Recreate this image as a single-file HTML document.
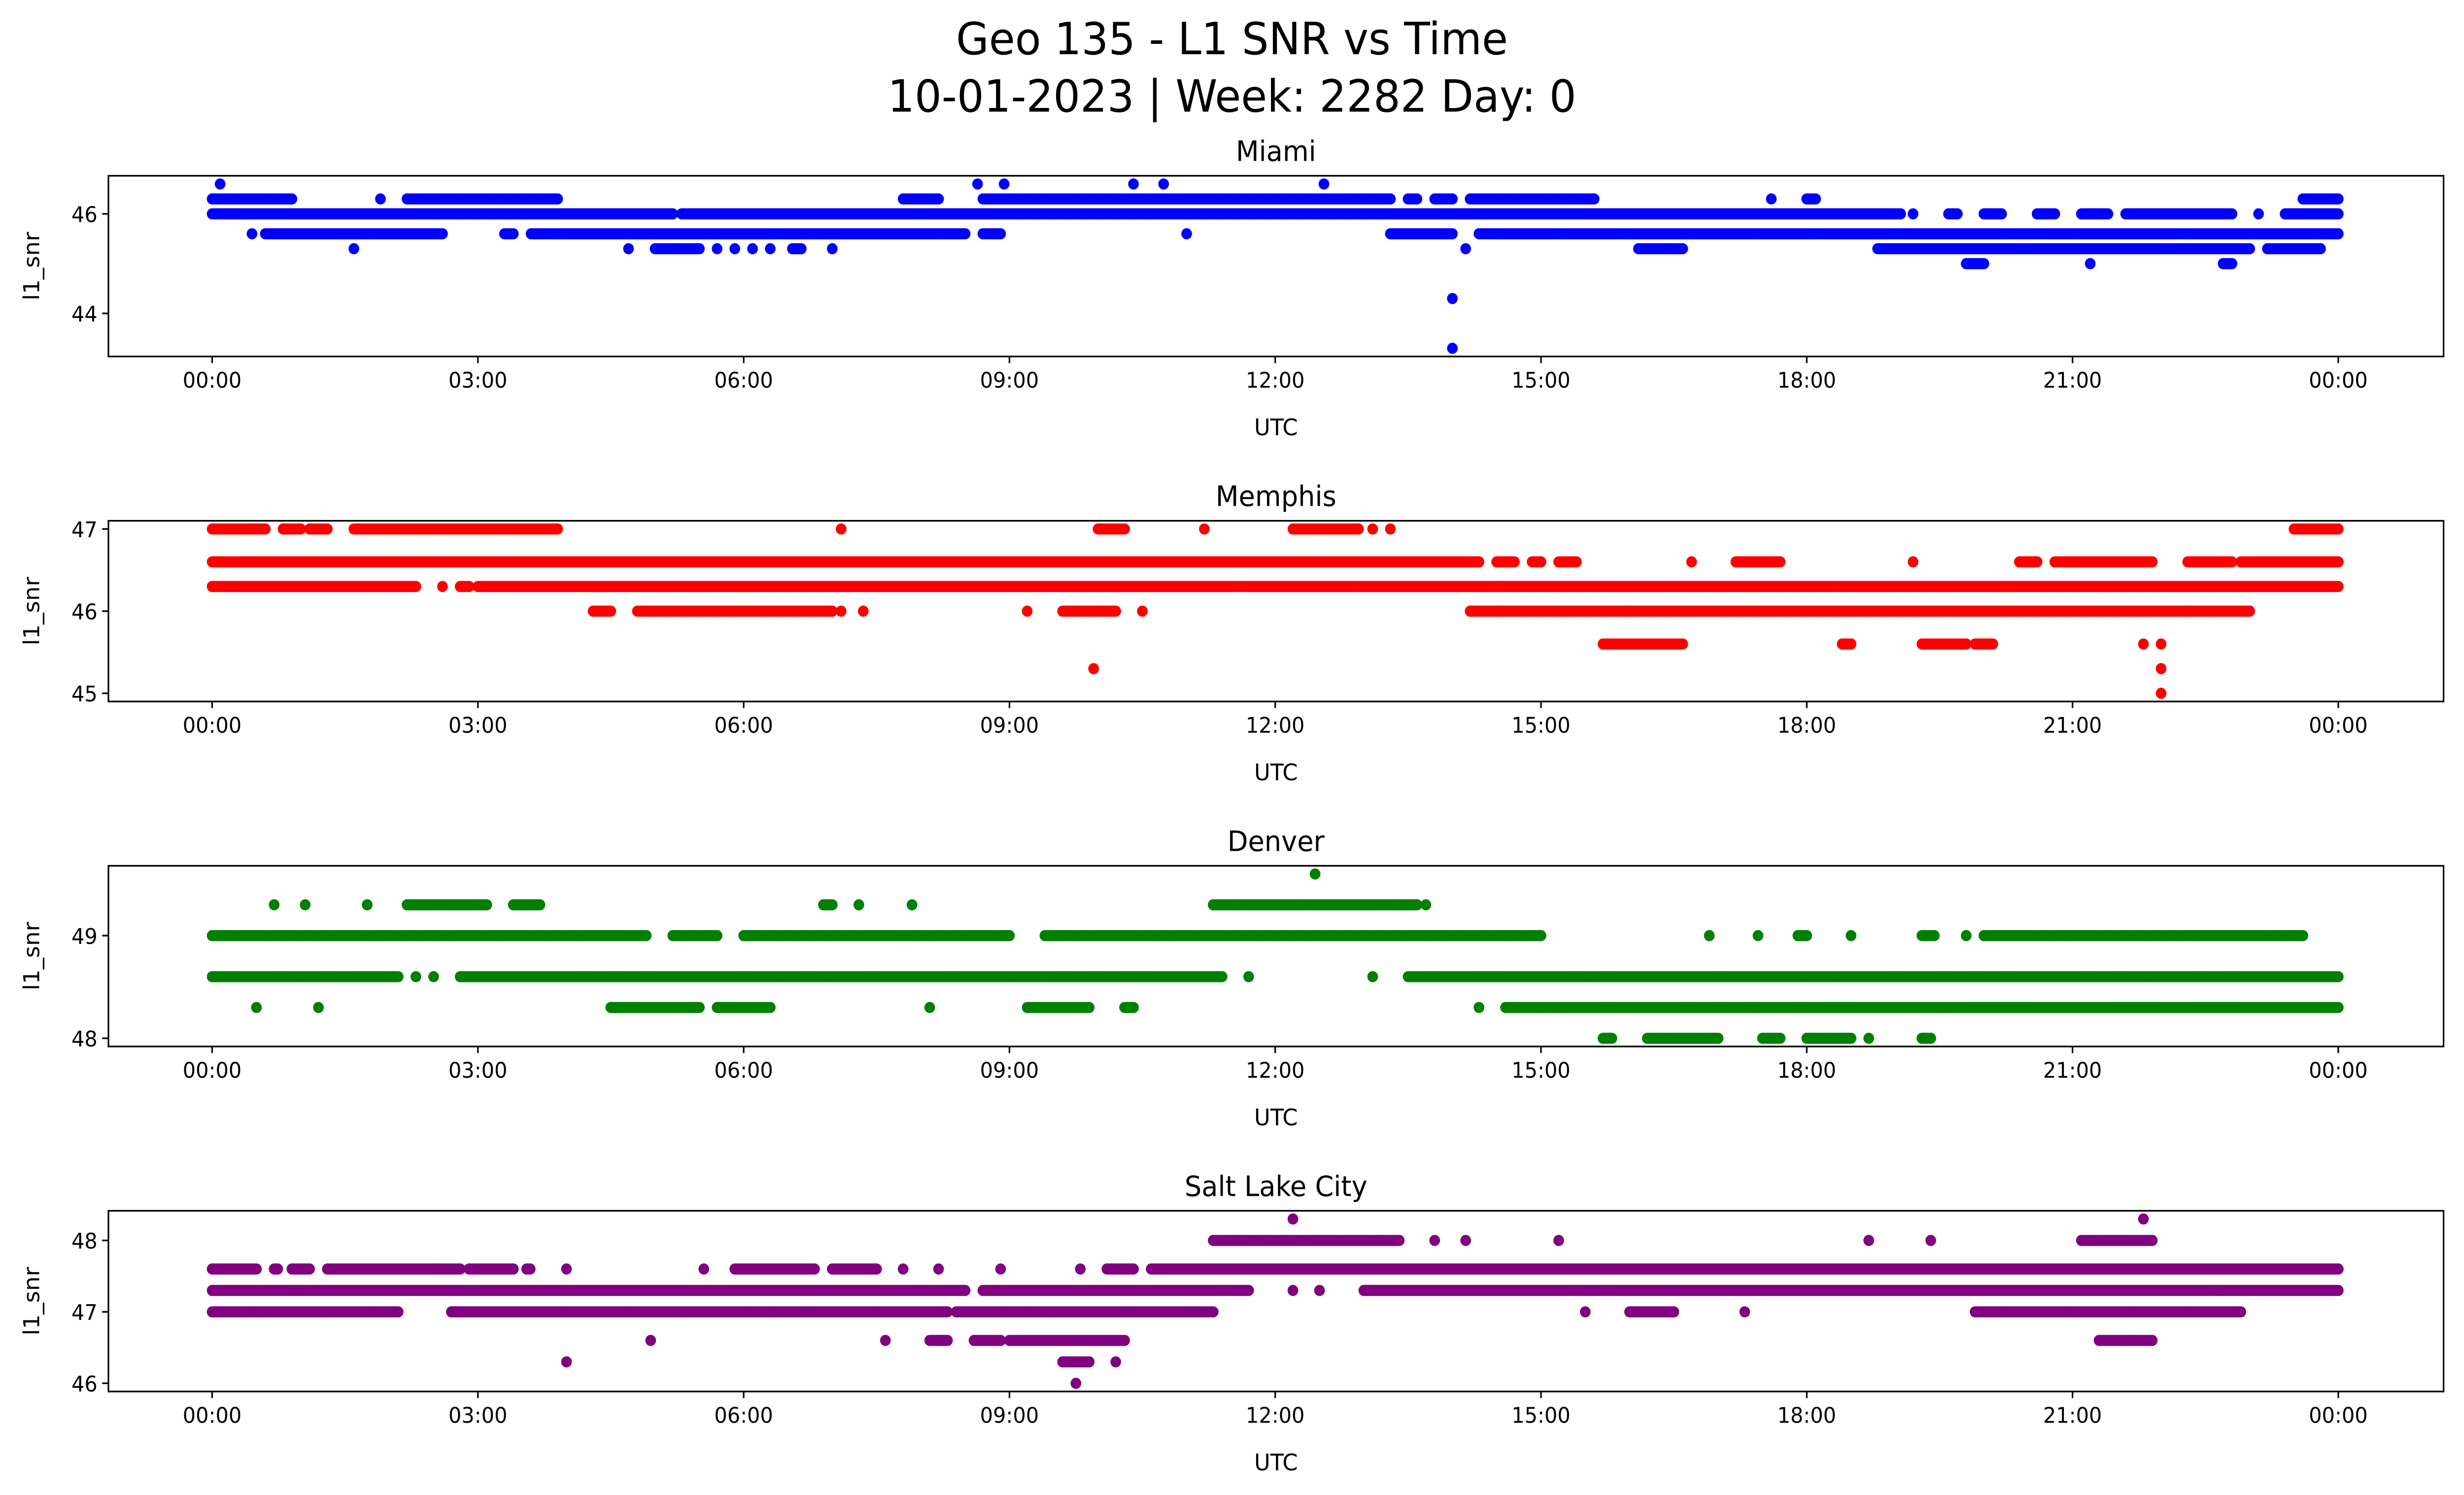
<!DOCTYPE html>
<html><head><meta charset="utf-8"><style>
html,body{margin:0;padding:0;background:#fff;overflow:hidden;width:100%;height:100%;}
svg{display:block;position:fixed;left:0;top:0;width:100vw;height:100vh;font-family:"DejaVu Sans","Liberation Sans",sans-serif;}
</style></head><body>
<svg id="fig" viewBox="0 0 1568 910" preserveAspectRatio="none" xmlns="http://www.w3.org/2000/svg">
<rect width="1568" height="910" fill="#fff"/>
<text x="784" y="33" font-size="27" text-anchor="middle">Geo 135 - L1 SNR vs Time</text>
<text x="784" y="68" font-size="27" text-anchor="middle">10-01-2023 | Week: 2282 Day: 0</text>
</svg>
<script>
// Data: runs of [snr level, start hour, end hour]
const miamiRuns=[[46.6,0.09,0.09],[46.6,8.64,8.64],[46.6,8.94,8.94],[46.6,10.4,10.4],[46.6,10.74,10.74],[46.6,12.55,12.55],
[46.3,0,0.9],[46.3,1.9,1.9],[46.3,2.2,3.9],[46.3,7.8,8.2],[46.3,8.7,13.3],[46.3,13.5,13.6],[46.3,13.8,14.0],[46.3,14.2,15.6],[46.3,17.6,17.6],[46.3,18.0,18.1],[46.3,23.6,24],
[46.0,0,5.2],[46.0,5.3,19.06],[46.0,19.2,19.2],[46.0,19.6,19.7],[46.0,20.0,20.2],[46.0,20.6,20.8],[46.0,21.1,21.4],[46.0,21.6,22.8],[46.0,23.1,23.1],[46.0,23.4,24],
[45.6,0.45,0.45],[45.6,0.6,2.6],[45.6,3.3,3.4],[45.6,3.6,3.9],[45.6,3.9,8.5],[45.6,8.7,8.9],[45.6,11.0,11.0],[45.6,13.3,14.0],[45.6,14.3,24],
[45.3,1.6,1.6],[45.3,4.7,4.7],[45.3,5.0,5.5],[45.3,5.7,5.7],[45.3,5.9,5.9],[45.3,6.1,6.1],[45.3,6.3,6.3],[45.3,6.55,6.65],[45.3,7.0,7.0],[45.3,14.15,14.15],[45.3,16.1,16.6],[45.3,18.8,23.0],[45.3,23.2,23.8],
[45.0,19.8,20.0],[45.0,21.2,21.2],[45.0,22.7,22.8],[44.3,14.0,14.0],[43.3,14.0,14.0]];
const memphisRuns=[[47.0,0,0.6],[47.0,0.8,1.0],[47.0,1.1,1.3],[47.0,1.6,3.9],[47.0,7.1,7.1],[47.0,10.0,10.3],[47.0,11.2,11.2],[47.0,12.2,12.95],[47.0,13.1,13.1],[47.0,13.3,13.3],[47.0,23.5,24],
[46.6,0,14.3],[46.6,14.5,14.7],[46.6,14.9,15.0],[46.6,15.2,15.4],[46.6,16.7,16.7],[46.6,17.2,17.7],[46.6,19.2,19.2],[46.6,20.4,20.6],[46.6,20.8,21.9],[46.6,22.3,22.8],[46.6,22.9,24],
[46.3,0,2.3],[46.3,2.6,2.6],[46.3,2.8,2.9],[46.3,3.0,24],
[46.0,4.3,4.5],[46.0,4.8,7.0],[46.0,7.1,7.1],[46.0,7.35,7.35],[46.0,9.2,9.2],[46.0,9.6,10.2],[46.0,10.5,10.5],[46.0,14.2,23.0],
[45.6,15.7,16.6],[45.6,18.4,18.5],[45.6,19.3,19.8],[45.6,19.9,20.1],[45.6,21.8,21.8],[45.6,22.0,22.0],
[45.3,9.95,9.95],[45.3,22.0,22.0],[45.0,22.0,22.0]];
const denverRuns=[[49.6,12.45,12.45],
[49.3,0.7,0.7],[49.3,1.05,1.05],[49.3,1.75,1.75],[49.3,2.2,3.1],[49.3,3.4,3.7],[49.3,6.9,7.0],[49.3,7.3,7.3],[49.3,7.9,7.9],[49.3,11.3,13.6],[49.3,13.7,13.7],
[49.0,0,4.9],[49.0,5.2,5.7],[49.0,6.0,9.0],[49.0,9.4,15.0],[49.0,16.9,16.9],[49.0,17.45,17.45],[49.0,17.9,18.0],[49.0,18.5,18.5],[49.0,19.3,19.45],[49.0,19.8,19.8],[49.0,20.0,23.6],
[48.6,0,2.1],[48.6,2.3,2.3],[48.6,2.5,2.5],[48.6,2.8,11.4],[48.6,11.7,11.7],[48.6,13.1,13.1],[48.6,13.5,24],
[48.3,0.5,0.5],[48.3,1.2,1.2],[48.3,4.5,5.5],[48.3,5.7,6.3],[48.3,8.1,8.1],[48.3,9.2,9.9],[48.3,10.3,10.4],[48.3,14.3,14.3],[48.3,14.6,15.0],[48.3,15.0,24],
[48.0,15.7,15.8],[48.0,16.2,17.0],[48.0,17.5,17.7],[48.0,18.0,18.5],[48.0,18.7,18.7],[48.0,19.3,19.4]];
const slcRuns=[[48.3,12.2,12.2],[48.3,21.8,21.8],
[48.0,11.3,13.4],[48.0,13.8,13.8],[48.0,14.15,14.15],[48.0,15.2,15.2],[48.0,18.7,18.7],[48.0,19.4,19.4],[48.0,21.1,21.9],
[47.6,0,0.5],[47.6,0.7,0.75],[47.6,0.9,1.1],[47.6,1.3,2.8],[47.6,2.9,3.4],[47.6,3.55,3.6],[47.6,4.0,4.0],[47.6,5.55,5.55],[47.6,5.9,6.8],[47.6,7.0,7.5],[47.6,7.8,7.8],[47.6,8.2,8.2],[47.6,8.9,8.9],[47.6,9.8,9.8],[47.6,10.1,10.4],[47.6,10.6,24],
[47.3,0,8.5],[47.3,8.7,11.7],[47.3,12.2,12.2],[47.3,12.5,12.5],[47.3,13.0,24],
[47.0,0,2.1],[47.0,2.7,8.3],[47.0,8.4,11.3],[47.0,15.5,15.5],[47.0,16.0,16.5],[47.0,17.3,17.3],[47.0,19.9,22.9],
[46.6,4.95,4.95],[46.6,7.6,7.6],[46.6,8.1,8.3],[46.6,8.6,8.9],[46.6,9.0,10.3],[46.6,21.3,21.9],
[46.3,4.0,4.0],[46.3,9.6,9.9],[46.3,10.2,10.2],[46.0,9.75,9.75]];
const xTickHours=[0,3,6,9,12,15,18,21,24];
const xTickLabels=["00:00","03:00","06:00","09:00","12:00","15:00","18:00","21:00","00:00"];
const panelTitles=["Miami","Memphis","Denver","Salt Lake City"];
const panelColors=["#0000ff","#ff0000","#008000","#800080"];
const panelTicks=[[44,46],[45,46,47],[48,49],[46,47,48]];
const panelRuns=[miamiRuns,memphisRuns,denverRuns,slcRuns];

const NS="http://www.w3.org/2000/svg";
const svg=document.getElementById('fig');
function mk(tag,attrs,parent){const e=document.createElementNS(NS,tag);for(const k in attrs)e.setAttribute(k,attrs[k]);(parent||svg).appendChild(e);return e;}
const L=69,R=1555,H=110;
const xScale=h=>135+h*(1488-135)/24;
panelRuns.forEach((runs,p)=>{
  const top=107+p*210,bot=top+H;
  const g=mk('g',{});
  
  
  let mn=Infinity,mx=-Infinity;runs.forEach(r=>{mn=Math.min(mn,r[0]);mx=Math.max(mx,r[0]);});
  const m=(mx-mn)*0.05,lo=mn-m,hi=mx+m;
  const yScale=v=>bot-(v-lo)/(hi-lo)*H;
  const t=mk('text',{x:(L+R)/2,y:top-9,'font-size':17,'text-anchor':'middle'},g);t.textContent=panelTitles[p];
  
  
  const dots=mk('g',{fill:panelColors[p]},g);
  
  
  runs.forEach(r=>{
    const y=yScale(r[0]).toFixed(2);
    for(let h=r[1];h<=r[2]+1e-9;h+=0.02){
      const c=mk('circle',{cx:xScale(h).toFixed(2),cy:y,r:3.4},dots);
      
      
    }
  });
  const box=mk('rect',{x:L,y:top,width:R-L,height:H,fill:'none',stroke:'#000','stroke-width':1},g);
  
  
  xTickHours.forEach((h,i)=>{
    const x=xScale(h);
    mk('line',{x1:x,x2:x,y1:bot,y2:bot+4,stroke:'#000'},g);
    const tl=mk('text',{x:x,y:bot+19,'font-size':13,'text-anchor':'middle'},g);tl.textContent=xTickLabels[i];
    
    
  });
  panelTicks[p].forEach(v=>{
    const y=yScale(v);
    mk('line',{x1:L-4,x2:L,y1:y,y2:y,stroke:'#000'},g);
    const tl=mk('text',{x:L-7,y:y+5,'font-size':13,'text-anchor':'end'},g);tl.textContent=v;
    
    
  });
  const xl=mk('text',{x:(L+R)/2,y:bot+48,'font-size':14,'text-anchor':'middle'},g);xl.textContent='UTC';
  
  
  const yl=mk('text',{x:0,y:0,'font-size':14,'text-anchor':'middle',transform:`translate(25,${top+H/2}) rotate(-90)`},g);yl.textContent='l1_snr';
  
  
});
</script>
</body></html>
